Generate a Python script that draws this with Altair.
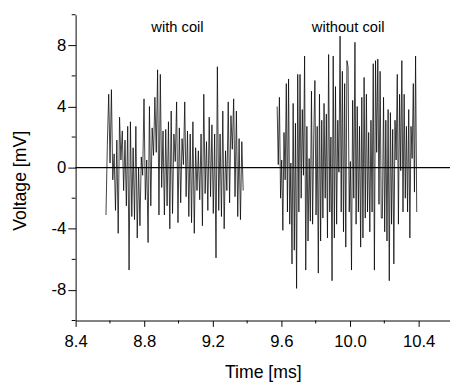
import altair as alt
import pandas as pd
import numpy as np

# time ranges (ms) of the two recordings
with_coil_range = [8.577, 9.377]
without_coil_range = [9.575, 10.389]

# voltage samples [mV]
with_coil = [
    -3.1, 1.5, 4.8, 0.3, 5.1, -0.8, 0.9, -2.8, 1.8, -4.3, 3.3, 0.5, 2.4, -1.5, 1.8, -2.5,
    2.7, -6.7, 3.0, -3.2, 1.3, -3.4, 2.7, -4.6, 0.0, -3.8, 0.7, -0.5, 4.5, -2.1, 0.5, -4.9,
    4.0, -2.5, 2.6, 0.8, 4.6, 1.0, 6.4, -3.1, 6.1, -1.3, 2.4, -3.1, 2.5, -2.5,
    3.0, -4.0, 3.7, -3.0, 2.2, 0.4, 4.3, -3.6, 2.6, -2.3, 1.9, 0.2, 4.3, -1.9, 2.4, -3.2,
    2.2, -3.6, 3.0, -4.3, 1.3, -1.5, 1.1, -2.1, 2.2, -3.8, 4.8, -1.7, 1.7, -2.8, 3.3, -1.9,
    2.8, -3.0, 2.2, -5.9, 6.6, -2.8, 2.2, -3.2, 3.7, -4.0, 1.1, -1.5, 4.3, -2.3, 3.4, 1.2,
    4.5, -1.9, 3.7, -3.2, 1.9, -3.4, 1.7, -1.5,
]
without_coil = [
    4.0, 0.2, 4.6, -2.0, 0.5, -4.1, 2.3, -0.8, 5.5, -2.9, 5.8, -3.7, 0.3, -6.3, 4.2, -5.4,
    2.9, -7.9, 6.1, -2.9, 6.1, -2.0, 3.8, -0.5, 7.3, -6.7, 2.7, -4.8, 0.6, -3.5, 5.0, -3.7, 2.0,
    5.7, -3.1, 2.7, -6.9, 4.8, -4.8, 3.1, -3.3, 4.2, -2.0, 3.5, -4.6, 7.4, -2.9, 2.0, -7.4,
    7.3, -4.6, 5.3, -3.7, 3.1, -0.3, 8.6, -2.9, 6.3, -4.2, 5.5, -5.2, 7.0,
    6.6, -2.9, 0.4, -6.7, 4.4, -2.0, 8.2, -3.7, 4.0, -2.9, 2.7, -5.2, 4.6, -4.6, 5.9, -3.3,
    4.8, -2.9, 2.3, -4.2, 3.1, -2.9, 6.8, -6.7, 7.0, 1.0, 7.1, -2.4, 6.3, -3.3,
    -3.3, 4.6, -4.2, 3.1, -4.8, 3.8, -7.4, 3.6, -3.7, 2.5, -6.3, 3.1, 0.5, 6.1, -3.7, 4.8,
    -0.2, 7.0, -2.9, 4.8, -2.0, 2.7, -2.9, 3.8, -4.6, 2.7, 0.6, 5.5, -1.6, 7.3, -2.9,
]

x_major = [8.4, 8.8, 9.2, 9.6, 10.0, 10.4]
x_minor = [8.6, 9.0, 9.4, 9.8, 10.2]
y_major = [-8, -4, 0, 4, 8]
y_minor = [-10, -6, -2, 2, 6, 10]

labels = ["with coil", "without coil"]
label_x = [8.994, 9.989]
label_y = [9.17, 9.17]

t1 = np.linspace(with_coil_range[0], with_coil_range[1], len(with_coil))
t2 = np.linspace(without_coil_range[0], without_coil_range[1], len(without_coil))
df = pd.DataFrame({
    "t": np.concatenate([t1, t2]),
    "v": with_coil + without_coil,
    "seg": ["with"] * len(with_coil) + ["without"] * len(without_coil),
    "order": list(range(len(with_coil))) + list(range(len(without_coil))),
})
lab = pd.DataFrame({"text": labels, "x": label_x, "y": label_y})
xmin_df = pd.DataFrame({"t": x_minor})
ymin_df = pd.DataFrame({"v": y_minor})

FONT = "Liberation Sans"
W, H = 382, 312

xscale = alt.Scale(domain=[8.4, 10.583], nice=False, zero=False)
yscale = alt.Scale(domain=[-10, 10], nice=False)

xaxis = alt.Axis(
    values=x_major,
    format=".1f",
    tickSize=6,
    title="Time [ms]",
    grid=False, labelFlush=False,
    domainColor="black", tickColor="black", domainWidth=1, tickWidth=1,
    labelFont=FONT, labelFontSize=17, labelColor="black", labelPadding=8,
    titleFont=FONT, titleFontSize=18, titleFontWeight="normal", titleColor="black",
    titlePadding=14,
)
yaxis = alt.Axis(
    values=y_major,
    labelExpr="toString(datum.value)",
    tickSize=8,
    title="Voltage [mV]",
    grid=False, labelFlush=False,
    domainColor="black", tickColor="black", domainWidth=1, tickWidth=1,
    labelFont=FONT, labelFontSize=17, labelColor="black", labelPadding=2,
    titleFont=FONT, titleFontSize=18, titleFontWeight="normal", titleColor="black",
    titlePadding=22, titleY=169,
)

X = lambda f: alt.X(f, scale=xscale, axis=xaxis, title="Time [ms]")
Y = lambda f: alt.Y(f, scale=yscale, axis=yaxis, title="Voltage [mV]")

lines = alt.Chart(df).mark_line(color="black", strokeWidth=0.75).encode(
    x=X("t:Q"),
    y=Y("v:Q"),
    detail="seg:N",
    order="order:Q",
)

zero = alt.Chart(lab).mark_rule(color="black", strokeWidth=1).encode(
    y=alt.datum(0, scale=yscale, axis=yaxis, title="Voltage [mV]"),
)

xminor = alt.Chart(xmin_df).mark_rule(color="black", strokeWidth=1).encode(
    x=X("t:Q"),
    y=alt.value(H),
    y2=alt.value(H + 3),
)
yminor = alt.Chart(ymin_df).mark_rule(color="black", strokeWidth=1).encode(
    y=Y("v:Q"),
    x=alt.value(0),
    x2=alt.value(-4),
)

text = alt.Chart(lab).mark_text(font=FONT, fontSize=15, color="black").encode(
    x=X("x:Q"),
    y=Y("y:Q"),
    text="text:N",
)

chart = alt.layer(lines, zero, xminor, yminor, text).properties(
    width=W,
    height=H,
    autosize=alt.AutoSizeParams(type="none"),
    padding={"left": 69, "top": 3, "right": 0, "bottom": 66},
    background="white",
).configure_view(stroke=None)

chart.save("out.html", embed_options={"renderer": "svg", "actions": False})
